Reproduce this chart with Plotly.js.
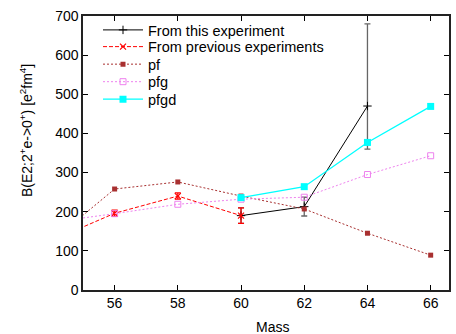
<!DOCTYPE html>
<html>
<head>
<meta charset="utf-8">
<script src="https://cdn.plot.ly/plotly-3.0.1.min.js"></script>
<style>html,body{margin:0;padding:0;background:#fff;}#chart{width:456px;height:334px;}</style>
</head>
<body>
<div id="chart"></div>
<script>
// This experiment
const thisMass = [60, 62, 64];
const thisVal = [190, 213, 470];
const thisErrPlus = [20, 24, 210];
const thisErrMinus = [20, 24, 110];
// Previous experiments
const prevMass = [54, 56, 58, 60];
const prevVal = [126, 196, 240, 190];
const prevErr = [6, 8, 8, 20];
// Calculations
const pfMass = [54, 56, 58, 60, 62, 64, 66];
const pfVal = [124, 258, 276, 240, 207, 145, 89];
const pfgMass = [54, 56, 58, 60, 62, 64, 66];
const pfgVal = [173, 195, 219, 232, 237, 295, 343];
const pfgdMass = [60, 62, 64, 66];
const pfgdVal = [236, 264, 377, 469];
const xTicks = [56, 58, 60, 62, 64, 66];
const yTicks = [0, 100, 200, 300, 400, 500, 600, 700];
const seriesNames = ['From this experiment', 'From previous experiments', 'pf', 'pfg', 'pfgd'];

const FAM = 'Liberation Sans, Arial, sans-serif';
const tickFont = {family: FAM, size: 14, color: '#000'};
const legFont = {family: FAM, size: 14.5, color: '#000'};

const traces = [
  {x: thisMass, y: thisVal, name: seriesNames[0], legend: 'legend', mode: 'lines+markers',
   line: {color: '#000', width: 1},
   marker: {symbol: 'cross-thin-open', size: 6, color: '#000', line: {color: '#000', width: 1}},
   error_y: {type: 'data', symmetric: false, array: thisErrPlus, arrayminus: thisErrMinus, color: '#666', thickness: 1.3, width: 3}},
  {x: prevMass, y: prevVal, name: seriesNames[1], legend: 'legend2', mode: 'lines+markers',
   line: {color: '#ff0000', width: 1, dash: '4px,2px'},
   marker: {symbol: 'x-thin-open', size: 6, color: '#ff0000', line: {color: '#ff0000', width: 1.2}},
   error_y: {type: 'data', array: prevErr, color: '#ff0000', thickness: 1.2, width: 3}},
  {x: pfMass, y: pfVal, name: seriesNames[2], legend: 'legend3', mode: 'lines+markers',
   line: {color: '#a83030', width: 1, dash: '2px,2px'},
   marker: {symbol: 'square', size: 5, color: '#a83030'}},
  {x: pfgMass, y: pfgVal, name: seriesNames[3], legend: 'legend4', mode: 'lines+markers',
   line: {color: '#ee82ee', width: 1, dash: '2px,2px'},
   marker: {symbol: 'square-open', size: 6, color: '#ee82ee', line: {color: '#ee82ee', width: 1}}},
  {x: pfgdMass, y: pfgdVal, name: seriesNames[4], legend: 'legend5', mode: 'lines+markers',
   line: {color: '#00ffff', width: 1.3},
   marker: {symbol: 'square', size: 7, color: '#00ffff'}}
];

// legend rows (paper coordinates of row centres)
const legRows = [0.949, 0.888, 0.824, 0.760, 0.696];
function leg(y) {
  return {x: 0.041, y: y, xanchor: 'left', yanchor: 'middle', bgcolor: 'rgba(0,0,0,0)',
          font: legFont, itemwidth: 40, borderwidth: 0};
}

const layout = {
  width: 456, height: 334,
  margin: {l: 83, r: 7, t: 16, b: 44},
  paper_bgcolor: '#fff', plot_bgcolor: '#fff',
  font: tickFont,
  showlegend: true,
  legend: leg(legRows[0]), legend2: leg(legRows[1]), legend3: leg(legRows[2]),
  legend4: leg(legRows[3]), legend5: leg(legRows[4]),
  xaxis: {range: [55, 66.58], tickvals: xTicks, ticktext: xTicks.map(String),
          ticks: 'inside', ticklen: 5, tickcolor: '#000', showline: true, linecolor: '#222', linewidth: 1.6,
          mirror: 'ticks', showgrid: false, zeroline: false, tickfont: tickFont},
  yaxis: {range: [0, 700], tickvals: yTicks, ticktext: yTicks.map(String),
          ticks: 'inside', ticklen: 5, tickcolor: '#000', showline: true, linecolor: '#222', linewidth: 1.6,
          mirror: 'ticks', showgrid: false, zeroline: false, tickfont: tickFont},
  annotations: [
    {text: 'Mass', xref: 'paper', yref: 'paper', x: 0.519, y: -0.135, xanchor: 'center', yanchor: 'middle',
     showarrow: false, font: tickFont},
    {text: 'B(E2;2<sup>+</sup>e-&gt;0<sup>+</sup>) [e<sup>2</sup>fm<sup>4</sup>]', xref: 'paper', yref: 'paper',
     x: -0.1557, y: 0.58, xanchor: 'center', yanchor: 'middle', textangle: -90, showarrow: false, font: tickFont}
  ]
};

Plotly.newPlot('chart', traces, layout, {displayModeBar: false, staticPlot: true});
</script>
</body>
</html>
